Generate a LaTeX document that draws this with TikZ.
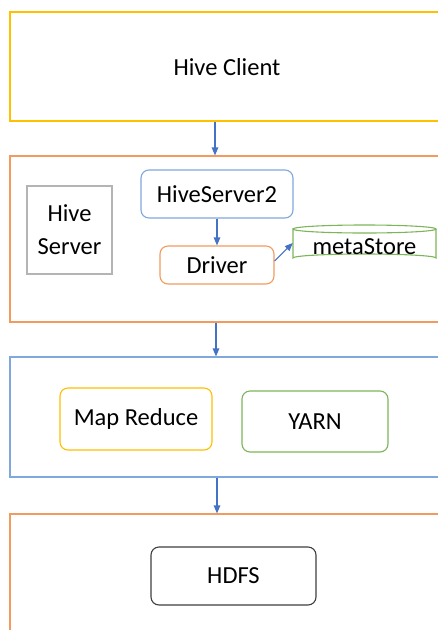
\documentclass[tikz,border=0pt]{standalone}
\usepackage{fontspec}
\setmainfont{Carlito}
\usetikzlibrary{arrows.meta}
\definecolor{cyellow}{HTML}{FFC000}
\definecolor{corange}{HTML}{F39B5E}
\definecolor{cblue}{HTML}{7FA8DC}
\definecolor{cgreen}{HTML}{7DB65A}
\definecolor{cgray}{HTML}{B4B4B4}
\definecolor{cdark}{HTML}{404040}
\definecolor{carrow}{HTML}{4472C4}
\tikzset{
  every node/.style={font=\fontsize{24.5}{33}\selectfont, text=black, inner sep=0pt},
  layer/.style={draw, line width=1.1pt, minimum width=434pt},
  rbox/.style={draw, line width=1.1pt, rounded corners=8pt},
  arr/.style={draw=carrow, line width=1.1pt, -{Triangle[length=8pt,width=6.5pt]}},
}
\begin{document}
\begin{tikzpicture}[x=1pt,y=-1pt]
\clip (0,0) rectangle (438,630);
\fill[white] (0,0) rectangle (438,630);

% four stacked layers, running off the right edge
\node[layer, draw=cyellow, minimum height=109pt] (client) at (227,66.5) {};
\node at (227,67) {Hive Client};
\node[layer, draw=corange, minimum height=166pt] (server) at (227,239) {};
\node[layer, draw=cblue, minimum height=120pt] (compute) at (227,417) {};
\node[layer, draw=corange, minimum height=126pt] (storage) at (227,577) {};

% server layer contents
\node[draw=cgray, line width=1.1pt, minimum width=85pt, minimum height=88pt, align=center] (hiveserver) at (69.5,230) {Hive\\Server};
\node[rbox, draw=cblue, minimum width=152pt, minimum height=48pt] (hs2) at (217,194) {HiveServer2};
\node[rbox, draw=corange, minimum width=114pt, minimum height=38pt] (driver) at (217,265) {Driver};

% metaStore cylinder
\node[minimum width=143pt, minimum height=38pt] (meta) at (364.5,243) {};
\draw[cgreen, line width=1.1pt]
  (293,229) arc[start angle=180, end angle=360, x radius=71.5, y radius=4]
  arc[start angle=0, end angle=180, x radius=71.5, y radius=4]
  -- (293,258) arc[start angle=180, end angle=360, x radius=71.5, y radius=4]
  -- (436,229);
\node at (364.5,247) {metaStore};

% compute layer contents
\node[rbox, draw=cyellow, minimum width=152pt, minimum height=62pt] (mr) at (136,419) {Map Reduce};
\node[rbox, draw=cgreen, minimum width=146pt, minimum height=61pt] (yarn) at (315,421.5) {YARN};

% storage layer contents
\node[rbox, draw=cdark, minimum width=165pt, minimum height=58pt] (hdfs) at (233.5,576) {HDFS};

% connectors
\draw[arr] (client.south -| hs2.center) ++(-2,0) coordinate (c1) -- (c1 |- server.north);
\draw[arr] (hs2.south) -- (driver.north);
\draw[arr] ([yshift=4pt]driver.east) -- (meta.west);
\draw[arr] (server.south -| hs2.center) ++(-1,0) coordinate (c2) -- (c2 |- compute.north);
\draw[arr] (compute.south -| hs2.center) -- (hs2.center |- storage.north);
\end{tikzpicture}
\end{document}
